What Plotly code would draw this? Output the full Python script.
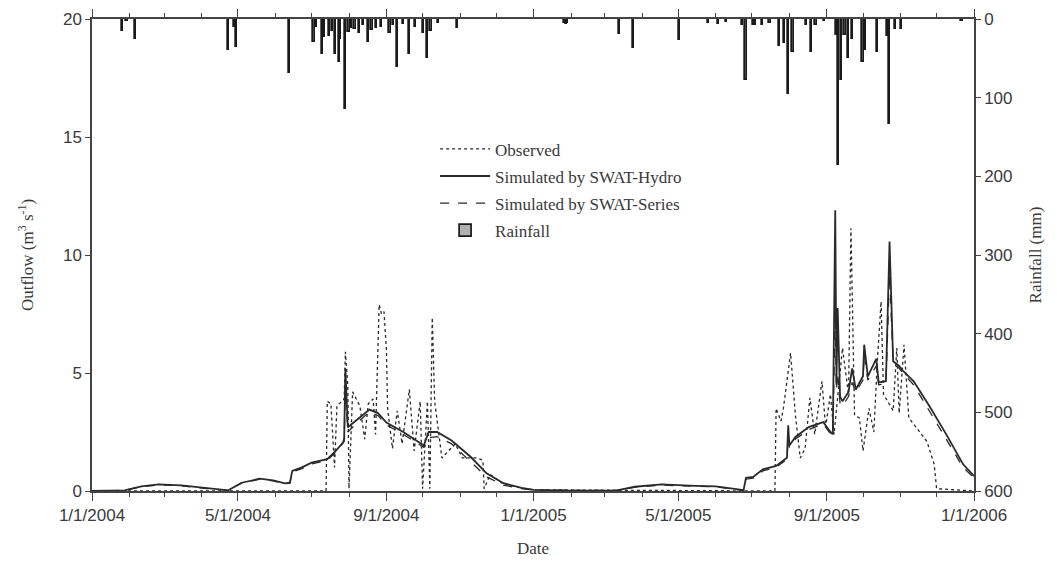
import plotly.graph_objects as go

# ---------------- data ----------------
sim_dates = [
    "2004-01-01", "2004-01-28", "2004-02-11", "2004-02-25", "2004-03-15", "2004-04-05",
    "2004-04-23", "2004-04-27", "2004-05-04", "2004-05-19", "2004-05-30", "2004-06-09",
    "2004-06-13", "2004-06-15", "2004-06-23", "2004-07-01", "2004-07-14", "2004-07-21",
    "2004-07-27", "2004-07-28", "2004-07-29", "2004-07-31", "2004-08-10", "2004-08-18",
    "2004-08-25", "2004-09-01", "2004-09-15", "2004-09-26", "2004-10-02", "2004-10-06",
    "2004-10-13", "2004-10-25", "2004-11-10", "2004-11-23", "2004-12-07", "2004-12-22",
    "2005-01-01", "2005-02-01", "2005-03-10", "2005-03-26", "2005-04-17", "2005-05-15",
    "2005-06-01", "2005-06-15", "2005-06-24", "2005-06-26", "2005-07-02", "2005-07-10",
    "2005-07-21", "2005-07-30", "2005-07-31", "2005-08-01", "2005-08-06", "2005-08-17",
    "2005-08-29", "2005-09-03", "2005-09-06", "2005-09-08", "2005-09-09", "2005-09-10",
    "2005-09-12", "2005-09-14", "2005-09-19", "2005-09-22", "2005-09-25", "2005-10-01",
    "2005-10-02", "2005-10-05", "2005-10-12", "2005-10-14", "2005-10-20", "2005-10-23",
    "2005-10-26", "2005-10-31", "2005-11-03", "2005-11-12", "2005-11-25", "2005-12-09",
    "2005-12-23", "2006-01-01",
]
hydro_vals = [
    0.00, 0.03, 0.20, 0.28, 0.24, 0.12,
    0.03, 0.15, 0.35, 0.52, 0.45, 0.32,
    0.35, 0.85, 1.00, 1.20, 1.35, 1.70,
    2.05, 2.20, 5.20, 2.70, 3.10, 3.45,
    3.30, 2.90, 2.50, 2.14, 1.93, 2.50,
    2.50, 2.14, 1.44, 0.75, 0.33, 0.13,
    0.05, 0.02, 0.02, 0.18, 0.28, 0.22,
    0.20, 0.10, 0.04, 0.56, 0.60, 0.92,
    1.06, 1.41, 2.78, 1.93, 2.29, 2.71,
    2.92, 2.57, 2.40, 11.90, 4.50, 7.75,
    4.00, 3.80, 4.20, 5.20, 4.30, 4.86,
    6.20, 4.86, 5.60, 4.60, 4.65, 10.57,
    5.50, 5.30, 5.10, 4.65, 3.60, 2.40,
    1.13, 0.63,
]
series_vals = [
    0.00, 0.03, 0.18, 0.26, 0.22, 0.10,
    0.03, 0.13, 0.33, 0.50, 0.43, 0.30,
    0.33, 0.80, 0.95, 1.15, 1.30, 1.65,
    2.00, 2.10, 4.50, 2.50, 3.00, 3.35,
    3.20, 2.80, 2.40, 2.05, 1.85, 2.25,
    2.30, 2.00, 1.25, 0.60, 0.25, 0.10,
    0.04, 0.02, 0.02, 0.16, 0.25, 0.20,
    0.18, 0.08, 0.03, 0.50, 0.55, 0.85,
    1.00, 1.35, 2.30, 1.85, 2.20, 2.60,
    2.85, 2.50, 2.35, 7.60, 4.30, 5.00,
    3.70, 3.60, 4.00, 4.60, 4.20, 4.70,
    5.80, 4.70, 5.30, 4.50, 4.55, 9.20,
    5.40, 5.20, 5.00, 4.50, 3.40, 2.20,
    1.00, 0.55,
]

obs_dates = [
    "2004-01-01", "2004-07-13", "2004-07-14", "2004-07-17", "2004-07-20", "2004-07-22",
    "2004-07-26", "2004-07-28", "2004-07-29", "2004-07-31", "2004-08-01", "2004-08-04",
    "2004-08-10", "2004-08-14", "2004-08-17", "2004-08-21", "2004-08-23", "2004-08-25",
    "2004-08-26", "2004-08-28", "2004-08-30", "2004-09-01", "2004-09-02", "2004-09-06",
    "2004-09-10", "2004-09-14", "2004-09-20", "2004-09-24", "2004-09-29", "2004-10-01",
    "2004-10-05", "2004-10-07", "2004-10-09", "2004-10-11", "2004-10-17", "2004-10-28",
    "2004-11-03", "2004-11-15", "2004-11-20", "2004-11-21", "2004-11-26", "2004-12-07",
    "2004-12-24", "2005-01-01", "2005-07-20", "2005-07-21", "2005-07-25", "2005-07-27",
    "2005-08-02", "2005-08-06", "2005-08-10", "2005-08-14", "2005-08-18", "2005-08-22",
    "2005-08-28", "2005-08-31", "2005-09-04", "2005-09-07", "2005-09-14", "2005-09-19",
    "2005-09-21", "2005-09-24", "2005-09-28", "2005-10-01", "2005-10-06", "2005-10-10",
    "2005-10-13", "2005-10-16", "2005-10-18", "2005-10-26", "2005-10-29", "2005-10-31",
    "2005-11-04", "2005-11-08", "2005-11-14", "2005-11-23", "2005-11-29", "2005-12-01",
    "2006-01-01",
]
obs_vals = [
    0.00, 0.00, 3.80, 3.70, 1.00, 3.60,
    3.80, 3.90, 5.90, 4.50, 0.10, 4.20,
    3.60, 2.20, 3.70, 3.90, 2.40, 6.50,
    7.90, 7.50, 7.60, 6.00, 3.50, 1.80,
    3.40, 2.00, 4.30, 1.70, 3.80, 0.10,
    3.80, 0.10, 7.35, 3.80, 1.40, 2.00,
    1.40, 1.40, 1.30, 0.10, 0.70, 0.30,
    0.10, 0.05, 0.00, 3.50, 2.96, 3.50,
    5.85, 3.20, 1.40, 1.80, 3.95, 2.40,
    4.65, 2.70, 4.10, 2.40, 6.06, 4.10,
    11.13, 3.20, 3.10, 1.70, 3.50, 2.50,
    5.60, 8.03, 4.10, 3.40, 6.06, 3.30,
    6.20, 3.10, 2.70, 2.10, 1.13, 0.10,
    0.00,
]

rain_dates = [
    "2004-01-26", "2004-01-30", "2004-02-06", "2004-04-23", "2004-04-28", "2004-04-30",
    "2004-06-13", "2004-07-03", "2004-07-05", "2004-07-10", "2004-07-12", "2004-07-16",
    "2004-07-18", "2004-07-21", "2004-07-24", "2004-07-25", "2004-07-29", "2004-08-01",
    "2004-08-03", "2004-08-06", "2004-08-10", "2004-08-13", "2004-08-17", "2004-08-20",
    "2004-08-24", "2004-08-28", "2004-09-04", "2004-09-07", "2004-09-10", "2004-09-15",
    "2004-09-20", "2004-09-25", "2004-10-02", "2004-10-05", "2004-10-08", "2004-10-14",
    "2004-10-30",
    "2005-01-27", "2005-01-28", "2005-01-29", "2005-03-13", "2005-03-25", "2005-05-02",
    "2005-05-26", "2005-06-03", "2005-06-10", "2005-06-23", "2005-06-26", "2005-07-02",
    "2005-07-04", "2005-07-10", "2005-07-16", "2005-07-24", "2005-07-28", "2005-07-31",
    "2005-08-04", "2005-08-15", "2005-08-19", "2005-08-23", "2005-08-30", "2005-09-09",
    "2005-09-11", "2005-09-13", "2005-09-16", "2005-09-19", "2005-09-22", "2005-10-01",
    "2005-10-03", "2005-10-13", "2005-10-21", "2005-10-23", "2005-10-28", "2005-11-02",
    "2005-12-22",
]
rain_vals = [
    15, 3, 25, 40, 10, 36,
    69, 29, 10, 45, 23, 21,
    15, 45, 55, 26, 114, 17,
    12, 13, 18, 8, 29, 14,
    12, 10, 18, 8, 61, 6,
    45, 10, 18, 50, 15, 5,
    12,
    5, 6, 5, 19, 37, 27,
    5, 6, 4, 8, 77, 8,
    8, 8, 5, 34, 30, 95,
    42, 8, 42, 8, 2, 20,
    186, 77, 20, 50, 25, 55,
    40, 42, 21, 134, 13, 13,
    2,
]

tick_dates = ["2004-01-01", "2004-05-01", "2004-09-01", "2005-01-01",
              "2005-05-01", "2005-09-01", "2006-01-01"]
tick_labels = ["1/1/2004", "5/1/2004", "9/1/2004", "1/1/2005",
               "5/1/2005", "9/1/2005", "1/1/2006"]
outflow_ticks = [0, 5, 10, 15, 20]
rain_ticks = [0, 100, 200, 300, 400, 500, 600]

# ---------------- figure ----------------
INK = "#2a2a2a"
AX = "#444444"
TXT = "#3a3a3a"
SANS = "Liberation Sans, Arial, sans-serif"
SERIF = "Liberation Serif, Times New Roman, serif"

fig = go.Figure()

fig.add_trace(go.Scatter(
    x=obs_dates, y=obs_vals, mode="lines", name="Observed",
    line=dict(color=INK, width=1.3, dash="dot"), legendgroup="a",
))
fig.add_trace(go.Scatter(
    x=sim_dates, y=hydro_vals, mode="lines", name="Simulated by SWAT-Hydro",
    line=dict(color=INK, width=1.8), legendgroup="b",
))
fig.add_trace(go.Scatter(
    x=sim_dates, y=series_vals, mode="lines", name="Simulated by SWAT-Series",
    line=dict(color=INK, width=1.3, dash="dash"), legendgroup="c",
))
fig.add_trace(go.Bar(
    x=rain_dates, y=rain_vals, name="Rainfall", yaxis="y2",
    width=86400000 * 1.0,
    marker=dict(color="#b0b0b0", line=dict(color="#1a1a1a", width=1.7)),
    legendgroup="d",
))

fig.update_layout(
    width=1057, height=566,
    margin=dict(l=84, r=91, t=11, b=83, autoexpand=False),
    paper_bgcolor="white", plot_bgcolor="white",
    showlegend=True,
    bargap=0,
    legend=dict(
        x=0.389, y=0.762, xanchor="left", yanchor="top",
        bgcolor="rgba(0,0,0,0)", borderwidth=0,
        font=dict(family=SERIF, size=17, color=TXT),
        traceorder="grouped", tracegroupgap=2, itemwidth=50,
    ),
    xaxis=dict(
        type="date", range=["2004-01-01", "2006-01-01"], automargin=False,
        tickvals=tick_dates, ticktext=tick_labels,
        ticks="outside", ticklen=8, tickwidth=1.3, tickcolor=AX,
        showline=True, linecolor=AX, linewidth=1.5, mirror="ticks",
        showgrid=False, zeroline=False,
        tickfont=dict(family=SANS, size=17, color=TXT),
        minor=dict(dtick="M1", tick0="2004-01-01", ticks="outside", ticklen=4,
                   tickcolor=AX, showgrid=False),
        title=dict(text="Date", font=dict(family=SERIF, size=17, color=TXT),
                   standoff=18),
    ),
    yaxis=dict(
        range=[0, 20], tickvals=outflow_ticks, automargin=False,
        ticks="outside", ticklen=5, tickwidth=1.3, tickcolor=AX,
        showline=True, linecolor=AX, linewidth=1.5,
        showgrid=False, zeroline=False,
        tickfont=dict(family=SANS, size=17, color=TXT),
        title=dict(text="Outflow (m<sup>3</sup> s<sup>-1</sup>)",
                   font=dict(family=SERIF, size=17, color=TXT), standoff=25),
    ),
    yaxis2=dict(
        overlaying="y", side="right", range=[600, 0], tickvals=rain_ticks,
        automargin=False,
        ticks="outside", ticklen=5, tickwidth=1.3, tickcolor=AX,
        showline=True, linecolor=AX, linewidth=1.5,
        showgrid=False, zeroline=False,
        tickfont=dict(family=SANS, size=17, color=TXT),
        title=dict(text="Rainfall (mm)",
                   font=dict(family=SERIF, size=17, color=TXT), standoff=18),
    ),
)

fig.write_html("out.html")
